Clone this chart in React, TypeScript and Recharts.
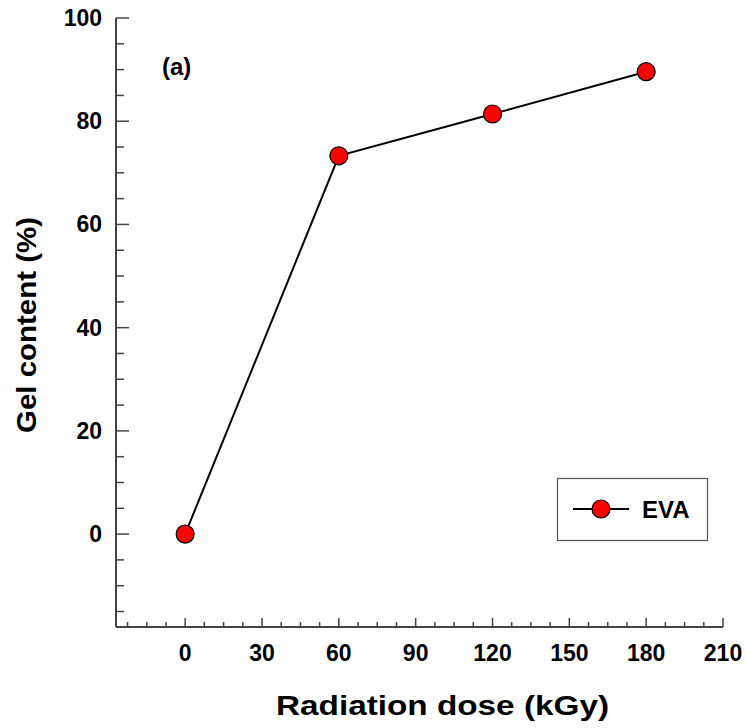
import { LineChart, Line, XAxis, YAxis } from 'recharts';

const doses = [0, 60, 120, 180];
const gelContent = [0, 73.3, 81.4, 89.6];
const xTicks = [-22.5, -15, -7.5, 0, 7.5, 15, 22.5, 30, 37.5, 45, 52.5, 60, 67.5, 75, 82.5, 90, 97.5, 105, 112.5, 120, 127.5, 135, 142.5, 150, 157.5, 165, 172.5, 180, 187.5, 195, 202.5, 210];
const yTicks = [-15, -10, -5, 0, 5, 10, 15, 20, 25, 30, 35, 40, 45, 50, 55, 60, 65, 70, 75, 80, 85, 90, 95, 100];
const seriesName = 'EVA';

const data = doses.map((d, i) => ({ dose: d, gel: gelContent[i] }));

const FONT = '"Liberation Sans", Arial, sans-serif';
const AXIS = '#444';

const XTick = (props: any) => {
  const { x, y, payload } = props;
  const v = payload.value;
  const major = v % 30 === 0;
  return (
    <g>
      <line x1={x} x2={x} y1={y} y2={y - (major ? 9 : 5)} stroke={AXIS} strokeWidth={1.5} />
      {major && (
        <text x={x} y={y + 34} textAnchor="middle" fontFamily={FONT} fontWeight="bold" fontSize={23} fill="#000">
          {v}
        </text>
      )}
    </g>
  );
};

const YTick = (props: any) => {
  const { x, y, payload } = props;
  const v = payload.value;
  const major = v % 20 === 0;
  return (
    <g>
      <line x1={x} x2={x + (major ? 13 : 8)} y1={y} y2={y} stroke={AXIS} strokeWidth={1.5} />
      {major && (
        <text x={x - 14} y={y + 8} textAnchor="end" fontFamily={FONT} fontWeight="bold" fontSize={23} fill="#000">
          {v}
        </text>
      )}
    </g>
  );
};

const Marker = (props: any) => {
  const { cx, cy } = props;
  if (cx == null || cy == null) return null;
  return <circle cx={cx} cy={cy} r={9} fill="#ff0000" stroke="#000" strokeWidth={1.2} />;
};

export default function App() {
  return (
    <div style={{ position: 'absolute', left: 0, top: 0, width: 746, height: 728, background: '#fff' }}>
      <LineChart width={746} height={728} data={data} margin={{ top: 18, right: 23, bottom: 0, left: 0 }}>
        <XAxis
          dataKey="dose"
          type="number"
          domain={[-27, 210]}
          ticks={xTicks}
          interval={0}
          height={101}
          tickLine={false}
          tickSize={0}
          tickMargin={0}
          tick={<XTick />}
          axisLine={{ stroke: AXIS, strokeWidth: 2 }}
          label={{
            content: () => (
              <text x={276} y={715} textLength={333} lengthAdjust="spacingAndGlyphs" fontFamily={FONT} fontWeight="bold" fontSize={28} fill="#000">
                Radiation dose (kGy)
              </text>
            ),
          }}
        />
        <XAxis xAxisId="top" orientation="top" dataKey="dose" type="number" domain={[-27, 210]} height={0} tick={false} tickLine={false} axisLine={{ stroke: '#555', strokeWidth: 1.5 }} />
        <YAxis
          type="number"
          domain={[-18, 100]}
          ticks={yTicks}
          interval={0}
          width={116}
          tickLine={false}
          tickSize={0}
          tickMargin={0}
          tick={<YTick />}
          axisLine={{ stroke: AXIS, strokeWidth: 2 }}
          label={{
            content: () => (
              <text x={36} y={433} textLength={216} lengthAdjust="spacingAndGlyphs" fontFamily={FONT} fontWeight="bold" fontSize={28} fill="#000" transform="rotate(-90 36 433)">
                Gel content (%)
              </text>
            ),
          }}
        />
        <YAxis yAxisId="right" orientation="right" type="number" domain={[-18, 100]} width={0} tick={false} tickLine={false} axisLine={{ stroke: '#555', strokeWidth: 1.5 }} />
        <Line
          type="linear"
          dataKey="gel"
          name={seriesName}
          stroke="#000"
          strokeWidth={2}
          dot={<Marker />}
          activeDot={false}
          isAnimationActive={false}
        />
      </LineChart>
      <svg width={746} height={728} style={{ position: 'absolute', left: 0, top: 0, pointerEvents: 'none' }}>
        <text x={162} y={75} fontFamily={FONT} fontWeight="bold" fontSize={24} fill="#000">
          (a)
        </text>
        <rect x={557.5} y={478.5} width={150} height={62} fill="#fff" stroke="#555" strokeWidth={1.2} />
        <line x1={573} x2={629} y1={509} y2={509} stroke="#000" strokeWidth={2} />
        <circle cx={601} cy={509} r={9} fill="#ff0000" stroke="#000" strokeWidth={1.2} />
        <text x={642} y={518} fontFamily={FONT} fontWeight="bold" fontSize={24} fill="#000">
          {seriesName}
        </text>
      </svg>
    </div>
  );
}
